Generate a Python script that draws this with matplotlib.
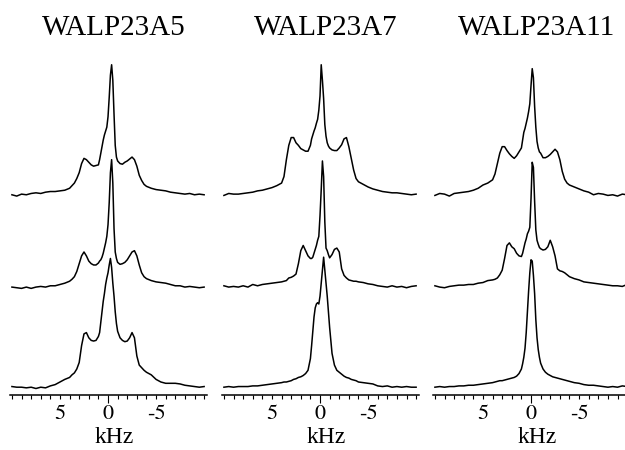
import numpy as np
import matplotlib
matplotlib.use('Agg')  # no display
import matplotlib.pyplot as plt
import matplotlib.transforms as mtransforms
from matplotlib.ticker import MultipleLocator, FixedLocator

plt.rcParams['font.family'] = ['Liberation Serif', 'DejaVu Serif']
plt.rcParams['axes.unicode_minus'] = False

# frequency axis (kHz), finer near the centre
FREQ = [10, 9.5, 9, 8.5, 8, 7.5, 7, 6.5, 6, 5.5, 5, 4.5,
        4, 3.75, 3.5, 3.25, 3, 2.75, 2.5, 2.25, 2, 1.75, 1.5, 1.25,
        1, 0.875, 0.75, 0.625, 0.5, 0.375, 0.25, 0.125, 0, -0.125, -0.25, -0.375, -0.5, -0.625, -0.75, -0.875, -1,
        -1.25, -1.5, -1.75, -2, -2.25, -2.5, -2.75, -3, -3.25, -3.5, -3.75, -4,
        -4.5, -5, -5.5, -6, -6.5, -7, -7.5, -8, -8.5, -9, -9.5, -10]

# relative intensities (central peak ~ 100)
A5_TOP = [0, -1, 0.5, 0, 1, 1.5, 1, 2, 2.5, 2.5, 3, 3.5,
          5, 7, 9, 12.5, 17, 24, 28, 27, 25, 23, 22, 22.5,
          23, 27, 32, 37, 42, 46, 49, 52, 60, 75, 92, 100, 88, 62, 38, 29, 26,
          24, 23.5, 25, 26, 27.5, 29, 27, 22, 15, 11, 8, 6.5,
          5, 4, 3.5, 3, 2, 1.5, 1, 0.5, 1, 0, 0.5, 0]
A5_MID = [0, -0.5, -1, 0, -1, 0, 0.5, 0, 1, 1, 2, 3,
          4.5, 6, 8, 12, 18, 24, 27, 24, 20, 18, 17, 17,
          18.5, 20, 21, 23, 26, 30, 34, 39, 48, 65, 88, 98, 80, 45, 27, 22, 19,
          17.5, 18, 19, 21, 24, 27, 28, 24, 17, 11, 8, 6.5,
          5, 4, 3.5, 3, 2, 1, 1, 0, 0.5, 0, -0.5, 0]
A5_BOT = [0.5, 0, 0, -0.5, 0, -1, 0, -0.5, 1, 2, 4, 6,
          7.5, 9.5, 11, 14, 19, 32, 41, 42, 38, 36, 35.5, 36,
          39, 42, 50, 58, 66, 72, 79, 84, 88, 94, 99, 92, 80, 70, 58, 49, 43,
          38, 36, 35, 35.5, 38, 42, 38, 24, 17, 15, 13, 11.5,
          9.5, 6, 4, 3, 3, 3, 2.5, 1.5, 1, 0.5, 0, 0.5]

A7_TOP = [-0.5, 1, 0.5, 0.5, 1, 1.5, 2, 3, 3.5, 4.5, 5.5, 7,
          9, 14, 27, 38, 44, 44, 40, 38, 35.5, 34.5, 33.5, 33.5,
          38, 43, 46, 49, 51.5, 55, 58, 65, 76, 100, 88, 74, 54, 45, 40, 37.5, 36,
          34.5, 34, 34, 36, 38.5, 43, 44, 37, 28, 19, 12.5, 10,
          8, 6, 4.5, 3.5, 2.5, 2, 1.5, 1.5, 1, 0.5, 0, 0.5]
A7_MID = [1, 0, 0.5, 0, 1, 0, 2, 1, 2, 2.5, 3, 3.5,
          4, 4.5, 5, 7, 7.5, 8.5, 10, 18, 28, 32, 28, 24,
          22, 22, 23, 26, 29, 32, 36, 39, 55, 75, 97, 85, 50, 30, 28, 25, 22.5,
          25, 29, 30, 27, 14, 9, 7, 5.5, 5, 4.5, 4.5, 4,
          3.5, 2.5, 2, 1, 0.5, 0, 1, 0, 0.5, -0.5, 0.5, 1]
A7_BOT = [0, 0.5, 0, 0.5, 0.5, 0.5, 1, 1, 1.5, 2, 2.5, 3,
          3.5, 4, 4, 4.5, 5, 6, 6.5, 7.5, 8, 9, 10.5, 13,
          22, 32, 43, 54, 61, 64, 65, 64, 70, 80, 90, 100, 90, 80, 70, 58, 46,
          26, 17, 13, 11.5, 10, 8.5, 7.5, 7, 6, 5.5, 5, 4,
          3.5, 3, 2.5, 1, 0.5, 1, 0, 0.5, 0, 0.5, 0, 0]

A11_TOP = [-0.5, 1, 0.5, -1, 1, 1.5, 2, 2.5, 3.5, 5, 7.5, 9,
           11.5, 16, 24, 32, 37, 37, 34, 31.5, 29.5, 28, 30, 33,
           36, 42, 48, 51, 55, 59, 64, 70, 84, 97, 90, 68, 52, 41, 36, 33, 32,
           28.5, 28.5, 29.5, 31, 33, 35, 33, 27, 18, 12, 9, 7.5,
           6, 4.5, 3, 2, 0, 1, 0.5, -0.5, 0, -1, 0.5, 0]
A11_MID = [1, 0, -0.5, 0.5, 1, 1.5, 1.5, 2, 2, 3, 3.5, 5,
           5.5, 6, 7, 9.5, 13, 22, 32, 34, 31, 29.5, 26, 24,
           23.5, 26, 30, 34, 37, 41, 43, 46, 68, 96, 92, 66, 44, 36, 33, 30.5, 29.5,
           28.5, 29, 31, 36, 31, 24, 14, 12.5, 12, 11, 9.5, 8,
           6.5, 5.5, 4, 3.5, 3, 2.5, 2, 1.5, 1, 1, 0.5, 2]
A11_BOT = [0, 0.5, 0, 0.5, 0.5, 1, 1, 1.5, 1.5, 2, 2.5, 3,
           3.5, 4, 4.5, 5, 5, 5.5, 6, 6.5, 7, 7.5, 8.5, 10.5,
           14, 18, 23, 30, 42, 58, 74, 88, 98, 97, 86, 72, 52, 38, 29, 23, 18.5,
           14, 11.5, 10, 9, 8, 7.5, 7, 6.5, 6, 5.5, 5, 4.5,
           3.5, 3, 2, 1.5, 1.5, 1, 0.5, 0, 0.5, 0, 1, 0.5]

TITLES = ['WALP23A5', 'WALP23A7', 'WALP23A11']
PANELS = [[A5_TOP, A5_MID, A5_BOT],
          [A7_TOP, A7_MID, A7_BOT],
          [A11_TOP, A11_MID, A11_BOT]]
TICK_VALUES = [5, 0, -5]
TICK_LABELS = ['5', '0', '-5']

# vertical stacking offsets (same units as intensities)
OFFSETS = [154, 83, 6]

fig = plt.figure(figsize=(6.25, 4.5), dpi=100)
lefts = [10 / 625, 222 / 625, 433 / 625]

for left, title, traces in zip(lefts, TITLES, PANELS):
    ax = fig.add_axes([left, 55 / 450, 197 / 625, 340 / 450])
    for off, trace in zip(OFFSETS, traces):
        ax.plot(FREQ, np.array(trace) + off, color='black', lw=1.1)

    ax.set_xlim(10.2, -10.3)
    ax.set_ylim(0, 261.5)

    # only the bottom axis line is shown
    for side in ['top', 'left', 'right']:
        ax.spines[side].set_visible(False)
    ax.spines['bottom'].set_linewidth(1.1)
    ax.set_yticks([])

    # long tick at 0, short ticks every kHz
    ax.xaxis.set_major_locator(FixedLocator([0]))
    ax.xaxis.set_minor_locator(MultipleLocator(1))
    ax.tick_params(axis='x', which='major', direction='out', length=6,
                   width=0.8, labelbottom=False)
    ax.tick_params(axis='x', which='minor', direction='out', length=3,
                   width=0.8, labelbottom=False)

    # tick labels as plain text; the installed Liberation Serif draws no "0",
    # so use the Times-like STIX font bundled with matplotlib
    trans = mtransforms.blended_transform_factory(ax.transData, ax.transAxes)
    for val, lab in zip(TICK_VALUES, TICK_LABELS):
        ax.text(val, -0.028, lab, transform=trans, ha='center', va='top',
                fontsize=16, family='STIXGeneral')

    ax.set_xlabel('kHz', fontsize=17)
    ax.xaxis.set_label_coords(0.528, -0.094)
    ax.xaxis.label.set_va('top')

    ax.text(0.528, 1.079, title, transform=ax.transAxes, ha='center',
            va='center', fontsize=21)

fig.savefig('out.png', dpi=100)
